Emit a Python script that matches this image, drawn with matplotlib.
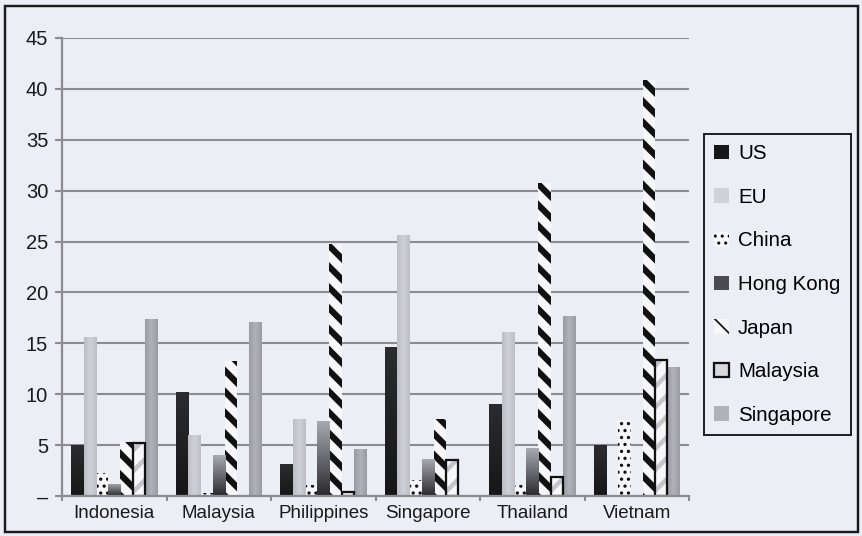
import numpy as np
import matplotlib
matplotlib.use("Agg")
import matplotlib.pyplot as plt
from matplotlib.colors import LinearSegmentedColormap
from matplotlib.patches import Rectangle, Patch

# Export shares by destination (%), per exporting country
countries = ["Indonesia", "Malaysia", "Philippines", "Singapore", "Thailand", "Vietnam"]
partners = ["US", "EU", "China", "Hong Kong", "Japan", "Malaysia", "Singapore"]

us = [5.0, 10.2, 3.1, 14.6, 9.0, 5.0]
eu = [15.6, 6.0, 7.6, 25.6, 16.1, 0.0]
china = [2.3, 0.3, 1.1, 1.6, 1.1, 7.5]
hong_kong = [1.2, 4.0, 7.4, 3.6, 4.7, 0.0]
japan = [5.3, 13.3, 24.8, 7.6, 30.8, 40.9]
malaysia = [5.2, 0.0, 0.4, 3.5, 1.9, 13.4]
singapore = [17.4, 17.1, 4.6, 0.0, 17.7, 12.7]

y_ticks = [0, 5, 10, 15, 20, 25, 30, 35, 40, 45]
y_tick_labels = ["–", "5", "10", "15", "20", "25", "30", "35", "40", "45"]

series = [us, eu, china, hong_kong, japan, malaysia, singapore]

BG = "#eceef6"
GRID = "#8c8c90"
FONT = "Liberation Sans"
FS_X = 10.8
FS_Y = 11.6
FS_LEG = 11.8

plt.rcParams["font.family"] = [FONT, "DejaVu Sans"]

DPI = 125
fig = plt.figure(figsize=(862 / DPI, 536 / DPI), dpi=DPI, facecolor=BG)
ax = fig.add_axes([62 / 862, 40 / 536, 627 / 862, 458 / 536])
ax.set_facecolor(BG)

# per-series styling
styles = {
    "US": dict(fc="#1d1d20", ec="#1d1d20", hatch=None, hlw=1.0, grad=("v", ["#2c2c30", "#161618"])),
    "EU": dict(fc="#c6c7cf", ec="#c6c7cf", hatch=None, hlw=1.0, grad=("h", ["#bcbdc5", "#d0d1d9", "#bcbdc5"])),
    "China": dict(fc="#f7f7fb", ec="#111111", hatch="...", hlw=1.1, grad=None),
    "Hong Kong": dict(fc="#6a6a70", ec="#6a6a70", hatch=None, hlw=1.0, grad=("v", ["#a8a9b1", "#2a2a2e"])),
    "Japan": dict(fc="#f7f7fb", ec="#111111", hatch="\\\\", hlw=3.6, grad=None),
    "Malaysia": dict(fc="#f7f7fb", ec="#c4c4ca", hatch="//", hlw=2.6, grad=None),
    "Singapore": dict(fc="#a6a7af", ec="#a6a7af", hatch=None, hlw=1.0, grad=("h", ["#9a9ba3", "#b0b1b9", "#9a9ba3"])),
}

x = np.arange(len(countries))
n = len(partners)
width = 0.1177


def shade(bars, colors, direction):
    cmap = LinearSegmentedColormap.from_list("shade", colors)
    for b in bars:
        h = b.get_height()
        if h <= 0:
            continue
        bx, by, bw = b.get_x(), b.get_y(), b.get_width()
        if direction == "v":
            grad = np.linspace(0, 1, 64).reshape(-1, 1)
        else:
            grad = np.linspace(0, 1, 64).reshape(1, -1)
        im = ax.imshow(grad, extent=[bx, bx + bw, by, by + h], origin="upper",
                       aspect="auto", cmap=cmap, vmin=0, vmax=1,
                       zorder=b.get_zorder() + 0.01, interpolation="bilinear")
        im.set_clip_path(b)


handles = []
for i, (name, vals) in enumerate(zip(partners, series)):
    st = styles[name]
    offs = x + (i - (n - 1) / 2) * width
    with plt.rc_context({"hatch.linewidth": st["hlw"]}):
        bars = ax.bar(offs, vals, width, color=st["fc"], edgecolor=st["ec"],
                      hatch=st["hatch"], linewidth=0, zorder=3)
    for b in bars:
        if hasattr(b, "set_hatch_linewidth"):
            b.set_hatch_linewidth(st["hlw"])
    if st["grad"] is not None:
        shade(bars, st["grad"][1], st["grad"][0])
    if name == "Malaysia":
        lws = [1.3 if v > 0 else 0 for v in vals]
        ax.bar(offs, vals, width, facecolor="none", edgecolor="#111111",
               linewidth=lws, zorder=4)
    with plt.rc_context({"hatch.linewidth": st["hlw"]}):
        hp = Patch(facecolor=st["fc"], edgecolor=st["ec"], hatch=st["hatch"],
                   linewidth=0, label=name)
    if name == "Malaysia":
        hp = Patch(facecolor="#d8d8de", edgecolor="#111111", linewidth=1.3, label=name)
    if st["grad"] is not None:
        hp = Patch(facecolor=st["grad"][1][len(st["grad"][1]) // 2] if name != "Hong Kong" else "#4a4a50",
                   edgecolor="none", label=name)
    handles.append(hp)

ax.set_xlim(-0.5, len(countries) - 0.5)
ax.set_ylim(0, 45)

ax.set_yticks(y_ticks)
ax.set_yticklabels(y_tick_labels)
ax.set_xticks(x)
ax.set_xticklabels(countries)
ax.set_xticks(np.arange(len(countries) + 1) - 0.5, minor=True)

ax.yaxis.grid(True, color=GRID, linewidth=1.2, zorder=0)
ax.set_axisbelow(True)

for side in ("top", "right"):
    ax.spines[side].set_visible(False)
for side in ("left", "bottom"):
    ax.spines[side].set_color(GRID)
    ax.spines[side].set_linewidth(1.3)
    ax.spines[side].set_zorder(5)

ax.tick_params(axis="y", length=4, width=1.2, color=GRID, pad=4,
               labelsize=FS_Y, labelcolor="#1a1a1a")
ax.tick_params(axis="x", which="major", length=0, pad=5,
               labelsize=FS_X, labelcolor="#1a1a1a")
ax.tick_params(axis="x", which="minor", length=3, width=1.2, color=GRID)

leg = fig.legend(handles=handles, loc="upper left",
                 bbox_to_anchor=(704 / 862, 1 - 134 / 536),
                 frameon=True, fancybox=False, fontsize=FS_LEG,
                 handlelength=0.72, handleheight=0.72, handletextpad=0.45,
                 labelspacing=1.2, borderpad=0.5, borderaxespad=0)
frame = leg.get_frame()
frame.set_facecolor(BG)
frame.set_edgecolor("#1a1a1a")
frame.set_linewidth(1.1)
frame.set_alpha(1)

# outer frame around the whole figure
fig.add_artist(Rectangle((5 / 862, 4 / 536), 853 / 862, 526 / 536,
                         transform=fig.transFigure, fill=False,
                         edgecolor="#1a1a1a", linewidth=1.4))

fig.savefig("out.png", dpi=DPI, facecolor=BG)
